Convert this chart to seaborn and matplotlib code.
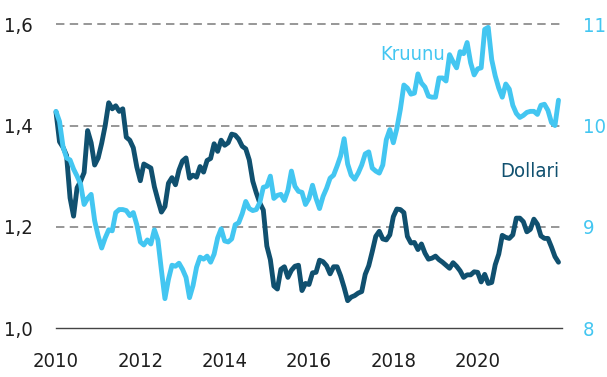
import numpy as np
import pandas as pd
import matplotlib
matplotlib.use("Agg")
import matplotlib.pyplot as plt
import seaborn as sns

# Monthly averages, January 2010 - December 2021
years = list(range(2010, 2022))

dollari = [
    1.427, 1.368, 1.357, 1.341, 1.257, 1.221, 1.277, 1.290, 1.307, 1.390, 1.366, 1.322,
    1.336, 1.365, 1.400, 1.445, 1.433, 1.439, 1.428, 1.433, 1.377, 1.371, 1.356, 1.318,
    1.291, 1.324, 1.320, 1.316, 1.279, 1.253, 1.229, 1.240, 1.286, 1.297, 1.283, 1.312,
    1.330, 1.336, 1.296, 1.302, 1.298, 1.319, 1.308, 1.331, 1.335, 1.364, 1.349, 1.371,
    1.361, 1.366, 1.383, 1.381, 1.373, 1.359, 1.354, 1.332, 1.290, 1.267, 1.247, 1.233,
    1.162, 1.135, 1.083, 1.077, 1.116, 1.121, 1.100, 1.114, 1.122, 1.124, 1.074, 1.088,
    1.086, 1.109, 1.110, 1.134, 1.131, 1.123, 1.107, 1.121, 1.121, 1.103, 1.080, 1.054,
    1.061, 1.064, 1.069, 1.072, 1.106, 1.123, 1.151, 1.181, 1.191, 1.176, 1.174, 1.184,
    1.220, 1.235, 1.234, 1.228, 1.181, 1.168, 1.169, 1.155, 1.166, 1.148, 1.136, 1.138,
    1.142, 1.135, 1.130, 1.124, 1.118, 1.129, 1.122, 1.113, 1.100, 1.105, 1.105, 1.111,
    1.110, 1.091, 1.106, 1.088, 1.090, 1.125, 1.146, 1.183, 1.179, 1.177, 1.184, 1.217,
    1.217, 1.210, 1.190, 1.195, 1.215, 1.205, 1.182, 1.177, 1.177, 1.160, 1.141, 1.130,
]

kruunu = [
    10.14, 10.04, 9.79, 9.68, 9.66, 9.57, 9.50, 9.42, 9.22, 9.28, 9.32, 9.06,
    8.91, 8.79, 8.89, 8.97, 8.96, 9.14, 9.17, 9.17, 9.16, 9.11, 9.14, 9.02,
    8.85, 8.82, 8.87, 8.83, 8.97, 8.87, 8.57, 8.29, 8.48, 8.62, 8.61, 8.64,
    8.58, 8.50, 8.30, 8.42, 8.60, 8.70, 8.68, 8.71, 8.65, 8.73, 8.89, 8.98,
    8.86, 8.85, 8.88, 9.02, 9.04, 9.13, 9.25, 9.18, 9.16, 9.17, 9.24, 9.39,
    9.40, 9.50, 9.28, 9.31, 9.32, 9.26, 9.36, 9.55, 9.40, 9.35, 9.34, 9.22,
    9.28, 9.41, 9.28, 9.18, 9.30, 9.38, 9.48, 9.51, 9.60, 9.70, 9.87, 9.62,
    9.51, 9.47, 9.53, 9.61, 9.72, 9.74, 9.58, 9.55, 9.53, 9.61, 9.86, 9.96,
    9.83, 9.97, 10.16, 10.40, 10.37, 10.31, 10.32, 10.51, 10.42, 10.38, 10.29, 10.28,
    10.28, 10.47, 10.47, 10.44, 10.70, 10.63, 10.57, 10.73, 10.71, 10.82, 10.62, 10.50,
    10.56, 10.57, 10.95, 10.97, 10.65, 10.49, 10.37, 10.28, 10.41, 10.36, 10.20, 10.12,
    10.08, 10.10, 10.13, 10.14, 10.14, 10.11, 10.20, 10.21, 10.15, 10.03, 10.00, 10.25,
]

x_ticks = list(range(2010, 2023))
x_labels = ["2010", "", "2012", "", "2014", "", "2016", "", "2018", "", "2020", "", ""]
left_ticks = [1.0, 1.2, 1.4, 1.6]
left_labels = ["1,0", "1,2", "1,4", "1,6"]
right_ticks = [8, 9, 10, 11]
right_labels = ["8", "9", "10", "11"]

DARK = "#10506f"
LIGHT = "#43c6f1"
TEXT = "#1e1e1e"
FS = 14.5

t = [y + m / 12 for y in years for m in range(12)]
df = pd.DataFrame({"t": t, "Dollari": dollari, "Kruunu": kruunu})

sns.set_theme(style="white")
plt.rcParams["font.family"] = ["DejaVu Sans"]
plt.rcParams["font.stretch"] = "condensed"

fig = plt.figure(figsize=(6.07, 3.77), dpi=100)
ax = fig.add_axes([56 / 607, 1 - 328 / 377, (562 - 56) / 607, (328 - 24.3) / 377])
ax2 = ax.twinx()

# dashed reference lines
for v in left_ticks[1:]:
    ax.axhline(v, color="#7a7a7a", lw=1.1, ls=(0, (5.5, 3.5)), zorder=0)

sns.lineplot(data=df, x="t", y="Dollari", ax=ax, color=DARK, lw=3.5,
             legend=False, zorder=3)
sns.lineplot(data=df, x="t", y="Kruunu", ax=ax2, color=LIGHT, lw=3.5,
             legend=False, zorder=3)
for a in (ax, ax2):
    for ln in a.get_lines():
        ln.set_solid_capstyle("round")
        ln.set_solid_joinstyle("round")
        ln.set_clip_on(False)

ax.set_xlim(2010, 2022)
ax.set_ylim(1.0, 1.6)
ax2.set_ylim(8, 11)

ax.set_xticks(x_ticks)
ax.set_xticklabels(x_labels, fontsize=FS, color=TEXT, fontstretch="condensed")
ax.set_yticks(left_ticks)
ax.set_yticklabels(left_labels, fontsize=FS, color=TEXT, fontstretch="condensed")
ax2.set_yticks(right_ticks)
ax2.set_yticklabels(right_labels, fontsize=FS, color=LIGHT, fontstretch="condensed")

ax.tick_params(axis="x", direction="in", length=6, width=1.0, color="#444444", pad=17)
ax.tick_params(axis="y", length=0, pad=17)
ax2.tick_params(axis="y", length=0, pad=15)

ax.set_xlabel("")
ax.set_ylabel("")
ax2.set_ylabel("")

for a in (ax, ax2):
    for s in ("top", "left", "right", "bottom"):
        a.spines[s].set_visible(False)
ax.spines["bottom"].set_visible(True)
ax.spines["bottom"].set_color("#444444")
ax.spines["bottom"].set_linewidth(1.0)

ax.text(2017.68, 1.54, "Kruunu", color=LIGHT, fontsize=FS, fontstretch="condensed",
        ha="left", va="center")
ax.text(2020.53, 1.31, "Dollari", color=DARK, fontsize=FS, fontstretch="condensed",
        ha="left", va="center")

fig.savefig("out.png", dpi=100)
